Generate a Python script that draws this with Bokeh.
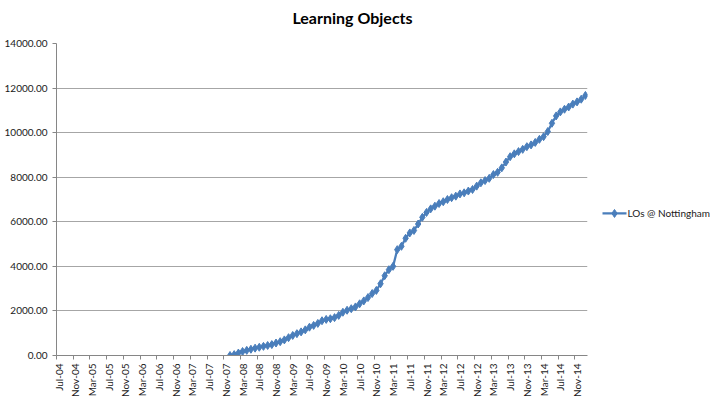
import pandas as pd
from bokeh.plotting import figure
from bokeh.layouts import row, column
from bokeh.models import FixedTicker, NumeralTickFormatter, ColumnDataSource, Range1d
from bokeh.core.properties import value
from bokeh.embed import file_html
from bokeh.resources import INLINE

# monthly categories Jul-04 .. Jan-15
months = [d.strftime("%b-%y") for d in pd.date_range("2004-07-01", "2015-01-01", freq="MS")]
tick_every = 4

chart_title = "Learning Objects"
series_name = "LOs @ Nottingham"
series_start = "Dec-07"
series_values = [
    0, 40, 110, 180, 230, 280, 330, 370, 410, 450, 490, 560,          # Dec-07..Nov-08
    620, 700, 800, 900, 980, 1060, 1150, 1270, 1350, 1440, 1560, 1620,  # Dec-08..Nov-09
    1650, 1700, 1800, 1940, 2030, 2100, 2180, 2320, 2450, 2600, 2780, 2920,  # Dec-09..Nov-10
    3220, 3580, 3850, 4000, 4750, 4900, 5260, 5500, 5610, 5900, 6200, 6420,  # Dec-10..Nov-11
    6580, 6700, 6820, 6900, 7000, 7080, 7150, 7250, 7300, 7380, 7450, 7600,  # Dec-11..Nov-12
    7750, 7850, 7950, 8120, 8220, 8420, 8680, 8920, 9050, 9150, 9250, 9370,  # Dec-12..Nov-13
    9450, 9560, 9700, 9820, 10050, 10420, 10750, 10930, 11050, 11150, 11280, 11380,  # Dec-13..Nov-14
    11500, 11670,  # Dec-14..Jan-15
]

start = months.index(series_start)
xs = list(range(start, start + len(series_values)))
src = ColumnDataSource(dict(x=xs, y=series_values))

FONT = "Lato"
color = "#4a7ebb"
text_color = "#1a1a1a"
axis_color = "#868686"


def blank(w, h):
    f = figure(width=w, height=h, output_backend="svg", toolbar_location=None,
               x_range=Range1d(0, w), y_range=Range1d(h, 0),
               min_border=0, min_border_left=0, min_border_right=0, min_border_top=0, min_border_bottom=0)
    f.axis.visible = False
    f.grid.visible = False
    f.outline_line_color = None
    f.background_fill_color = "white"
    f.border_fill_color = "white"
    return f


# title strip
tt = blank(714, 30)
tt.text([352], [17], text=[chart_title], text_font=value(FONT), text_font_size="16px",
        text_font_style="bold", text_color="#000000", text_baseline="middle", text_align="center")

p = figure(width=590, height=369, output_backend="svg", toolbar_location=None,
           x_range=Range1d(-0.5, len(months) - 0.5), y_range=Range1d(0, 14000),
           min_border_left=56, min_border_right=3, min_border_top=13, min_border_bottom=44)
p.outline_line_color = None
p.background_fill_color = "white"
p.border_fill_color = "white"

p.line("x", "y", source=src, line_color=color, line_width=2.25)
p.scatter("x", "y", source=src, marker="diamond", size=8, fill_color=color, line_color=color)

tick_pos = list(range(0, len(months), tick_every))
p.xaxis.ticker = FixedTicker(ticks=tick_pos, minor_ticks=[t - 0.5 for t in range(0, len(months) + 1, tick_every)])
p.xaxis.major_label_overrides = {i: months[i] for i in tick_pos}
p.xaxis.major_label_orientation = 1.5708
p.xaxis.major_tick_out = 0
p.xaxis.major_tick_in = 0
p.xaxis.minor_tick_out = 4
p.xaxis.minor_tick_in = 0
p.xaxis.minor_tick_line_color = axis_color
p.xaxis.axis_line_color = axis_color
p.xaxis.major_label_text_font = FONT
p.xaxis.major_label_text_font_size = "10px"
p.xaxis.major_label_text_color = text_color
p.xaxis.major_label_standoff = 4

p.yaxis.ticker = FixedTicker(ticks=list(range(0, 14001, 2000)), minor_ticks=[])
p.yaxis.formatter = NumeralTickFormatter(format="0.00")
p.yaxis.major_tick_out = 4
p.yaxis.major_tick_in = 0
p.yaxis.major_tick_line_color = axis_color
p.yaxis.axis_line_color = axis_color
p.yaxis.major_label_text_font = FONT
p.yaxis.major_label_text_font_size = "10px"
p.yaxis.major_label_text_color = text_color
p.yaxis.major_label_standoff = 5

p.xgrid.grid_line_color = None
p.ygrid.grid_line_color = "#a6a6a6"
p.ygrid.grid_line_width = 1

# legend panel (screen-like coordinates, y downward)
lg = blank(124, 369)
ly = 201
lg.line([12, 36], [ly, ly], line_color=color, line_width=2.25)
lg.scatter([24], [ly], marker="diamond", size=8, fill_color=color, line_color=color)
lg.text([37], [ly], text=[series_name], text_font=value(FONT), text_font_size="10px",
        text_color=text_color, text_baseline="middle", text_align="left")

open("out.html", "w").write(file_html(column(tt, row(p, lg), spacing=0), INLINE))
